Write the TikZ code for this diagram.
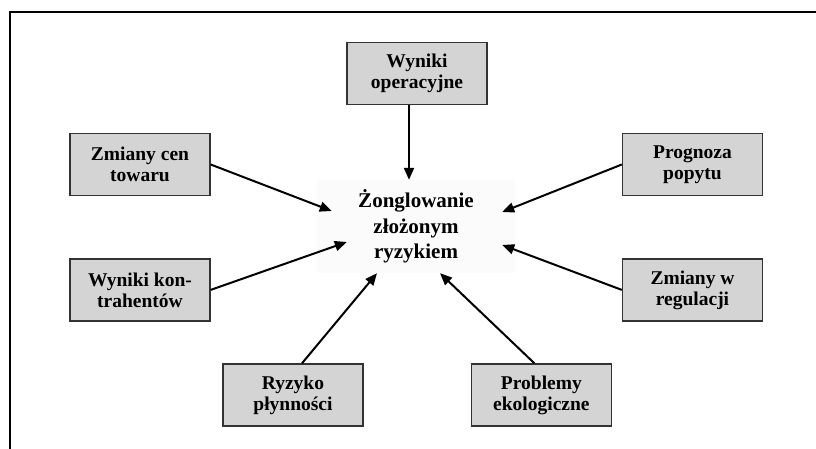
\documentclass[tikz,border=0pt]{standalone}
\usepackage{fontspec}
\setmainfont{Liberation Serif}
\usetikzlibrary{positioning,arrows.meta,calc}
\tikzset{
  risk/.style={rectangle,draw=black!80,fill=black!17,line width=1.4pt,
    minimum width=140pt,minimum height=62pt,inner sep=2pt,align=center,
    font=\fontsize{19.5}{21}\selectfont\bfseries},
  hub/.style={rectangle,fill=black!1.5,minimum width=198pt,minimum height=93pt,
    inner sep=0pt,align=center,font=\fontsize{21}{25.5}\selectfont\bfseries},
  feed/.style={-{Triangle[length=12pt,width=10pt]},line width=2pt},
}
\begin{document}
\begin{tikzpicture}[x=1pt,y=-1pt]
  \useasboundingbox (0,0) rectangle (816,449);
  \draw[line width=1.3pt] (10,449) -- (10,12) -- (816,12);
  % centre
  \node[hub] (mid) at (416,226.5) {Żonglowanie\\złożonym\\ryzykiem};
  % risk sources
  \node[risk] (wo) at (417,73.5) {Wyniki\\operacyjne};
  \node[risk] (ztc) at (140,164.5) {Zmiany cen\\towaru};
  \node[risk,below=62pt of ztc] (wk) {Wyniki kon-\\trahentów};
  \node[risk] (pp) at (692.5,164.5) {Prognoza\\popytu};
  \node[risk,below=62pt of pp] (zr) {Zmiany w\\regulacji};
  \node[risk] (rp) at (293,395) {Ryzyko\\płynności};
  \node[risk,right=107pt of rp] (pe) {Problemy\\ekologiczne};
  % arrows into the centre
  \draw[feed] ($(wo.south)+(-8,0)$) -- ($(mid.north)+(-7,0)$);
  \draw[feed] (ztc.east) -- ($(mid.west)+(15,-15.5)$);
  \draw[feed] (wk.east) -- ($(mid.west)+(30,15.5)$);
  \draw[feed] (pp.west) -- ($(mid.east)+(-13,-14.5)$);
  \draw[feed] (zr.west) -- ($(mid.east)+(-13,18.5)$);
  \draw[feed] ($(rp.north)+(9,0)$) -- ($(mid.south)+(-39,0)$);
  \draw[feed] ($(pe.north)+(-7,0)$) -- ($(mid.south)+(24,0)$);
\end{tikzpicture}
\end{document}
